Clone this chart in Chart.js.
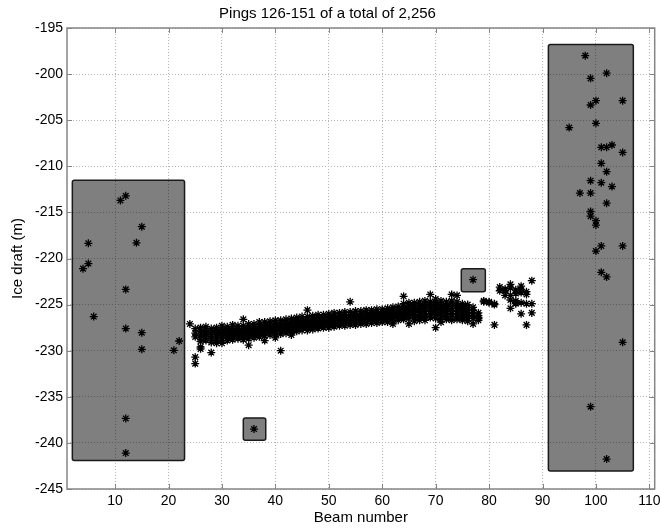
<!DOCTYPE html>
<html>
<head>
<meta charset="utf-8">
<script src="https://cdn.jsdelivr.net/npm/chart.js@4"></script>
<style>
  html, body { margin: 0; padding: 0; background: #fff; }
  canvas { display: block; }
</style>
</head>
<body>
<canvas id="c" width="660" height="529" style="width:660px;height:529px"></canvas>
<script>
// ---------- data ----------
const chartTitle = 'Pings 126-151 of a total of 2,256';
const xTickValues = [10, 20, 30, 40, 50, 60, 70, 80, 90, 100, 110];
const yTickValues = [-245, -240, -235, -230, -225, -220, -215, -210, -205, -200, -195];

// scattered points on the left (beams 4-22)
const leftBeams  = [11, 12, 15, 5, 14, 5, 4, 12, 6, 12, 15, 15, 21, 22, 12, 12];
const leftDrafts = [-213.7, -213.2, -216.55, -218.35, -218.3, -220.55, -221.1, -223.35, -226.3, -227.6, -228.05, -229.85, -229.96, -228.95, -237.35, -241.1];

// scattered points on the right (beams 95-105)
const rightBeams  = [98, 102, 99, 100, 105, 99, 100, 95, 101, 102, 103, 105, 101, 102, 99, 101, 103, 97, 99, 102, 99, 99, 100, 100, 101, 105, 100, 101, 102, 105, 99, 102];
const rightDrafts = [-198.0, -199.9, -200.46, -202.88, -202.88, -203.35, -205.34, -205.8, -207.94, -207.94, -207.69, -208.5, -209.68, -210.58, -211.56, -211.78, -212.2, -212.9, -212.9, -214.0, -214.9, -215.4, -215.9, -216.37, -218.64, -218.64, -219.19, -221.5, -222.0, -229.09, -236.07, -241.75];

// isolated boxed points
const isolatedBeams  = [36, 77];
const isolatedDrafts = [-238.5, -222.3];

// dense band, beams 24-88, drafts listed per beam
const bandBeams = [24,25,26,27,28,29,30,31,32,33,34,35,36,37,38,39,40,41,42,43,44,45,46,47,48,49,50,51,52,53,54,55,56,57,58,59,60,61,62,63,64,65,66,67,68,69,70,71,72,73,74,75,76,77,78,79,80,81,82,83,84,85,86,87,88];
const bandDrafts = [
  [-227.1],
  [-228.1, -227.6, -228.5, -230.7, -231.4],
  [-227.5, -227.9, -228.3, -228.6, -229.0, -229.6, -229.8],
  [-227.4, -227.8, -228.2, -228.5, -228.9, -228.1],
  [-227.6, -228.0, -228.3, -228.7, -229.1, -230.2],
  [-227.5, -227.9, -228.2, -228.5, -228.9, -229.2, -228.0],
  [-227.3, -227.7, -228.0, -228.3, -228.6, -228.9, -229.2, -228.1],
  [-227.4, -227.7, -228.0, -228.3, -228.6, -228.9, -227.9, -228.2],
  [-227.2, -227.6, -227.9, -228.2, -228.5, -228.8, -228.0, -228.4],
  [-227.3, -227.6, -227.9, -228.2, -228.5, -228.7, -227.8, -228.1],
  [-226.6, -227.3, -227.6, -227.9, -228.2, -228.5, -228.8, -228.0],
  [-227.1, -227.5, -227.8, -228.1, -228.4, -228.7, -229.4, -227.9],
  [-227.1, -227.4, -227.7, -228.0, -228.3, -228.6, -227.8, -228.2],
  [-226.9, -227.3, -227.6, -227.9, -228.2, -228.5, -227.7, -228.0],
  [-226.9, -227.2, -227.5, -227.8, -228.1, -228.4, -228.9, -227.6],
  [-226.8, -227.1, -227.4, -227.7, -228.0, -228.3, -227.5, -227.9],
  [-226.7, -227.0, -227.3, -227.6, -227.9, -228.2, -228.6, -227.4],
  [-226.7, -227.0, -227.3, -227.6, -227.9, -228.2, -230.0, -227.5],
  [-226.6, -226.9, -227.2, -227.5, -227.8, -228.1, -227.3, -227.7],
  [-226.5, -226.8, -227.1, -227.4, -227.7, -228.0, -228.3, -227.2],
  [-226.4, -226.7, -227.0, -227.3, -227.6, -227.9, -227.1, -227.5],
  [-226.3, -226.6, -226.9, -227.2, -227.5, -227.8, -227.0, -227.4],
  [-225.6, -226.3, -226.6, -226.9, -227.2, -227.5, -227.8, -227.0],
  [-226.2, -226.5, -226.8, -227.1, -227.4, -227.7, -226.9, -227.2],
  [-226.1, -226.4, -226.7, -227.0, -227.3, -227.6, -226.8, -227.1],
  [-226.1, -226.4, -226.7, -227.0, -227.3, -227.5, -226.9, -227.2],
  [-226.0, -226.3, -226.6, -226.9, -227.2, -227.5, -226.7, -227.0],
  [-225.9, -226.2, -226.5, -226.8, -227.1, -227.4, -226.6, -227.0],
  [-225.9, -226.2, -226.5, -226.8, -227.1, -227.3, -226.4, -226.9],
  [-225.8, -226.1, -226.4, -226.7, -227.0, -227.3, -226.5, -226.8],
  [-224.7, -225.8, -226.1, -226.4, -226.7, -227.0, -227.2, -226.5],
  [-225.7, -226.0, -226.3, -226.6, -226.9, -227.2, -226.4, -226.7],
  [-225.7, -226.0, -226.3, -226.6, -226.9, -227.1, -226.2, -226.5],
  [-225.6, -225.9, -226.2, -226.5, -226.8, -227.1, -226.3, -226.6],
  [-225.6, -225.9, -226.2, -226.5, -226.8, -227.0, -226.1, -226.4],
  [-225.5, -225.8, -226.1, -226.4, -226.7, -227.0, -226.2, -226.5],
  [-225.5, -225.8, -226.1, -226.4, -226.7, -226.9, -226.0, -226.3],
  [-225.4, -225.7, -226.0, -226.3, -226.6, -226.9, -226.1, -226.4],
  [-225.3, -225.6, -225.9, -226.2, -226.5, -226.8, -227.1, -226.0],
  [-225.2, -225.5, -225.8, -226.1, -226.4, -226.7, -225.9, -226.2],
  [-224.1, -224.9, -225.3, -225.7, -226.0, -226.3, -226.6, -225.5],
  [-224.8, -225.2, -225.6, -225.9, -226.2, -226.5, -227.1, -225.8],
  [-224.8, -225.1, -225.5, -225.8, -226.1, -226.4, -226.8, -225.6],
  [-224.7, -225.1, -225.4, -225.8, -226.1, -226.4, -226.7, -225.6],
  [-224.6, -225.0, -225.4, -225.7, -226.0, -226.3, -226.7, -225.2],
  [-223.9, -224.7, -225.0, -225.4, -225.7, -226.0, -226.4, -225.2],
  [-224.4, -224.8, -225.1, -225.4, -225.8, -226.1, -226.5, -227.5, -225.6],
  [-224.6, -225.0, -225.3, -225.6, -225.9, -226.2, -226.6, -226.9],
  [-224.7, -225.1, -225.4, -225.7, -226.0, -226.3, -226.6, -225.5],
  [-223.9, -224.6, -225.0, -225.4, -225.7, -226.0, -226.3, -226.7],
  [-224.0, -224.7, -225.1, -225.4, -225.7, -226.0, -226.3, -226.6],
  [-224.9, -225.2, -225.5, -225.8, -226.1, -226.4, -226.7, -225.3],
  [-225.0, -225.3, -225.6, -225.9, -226.2, -226.5, -226.8],
  [-225.3, -225.6, -225.9, -226.2, -226.5, -227.1],
  [-225.9, -226.2, -226.4, -226.7, -226.5],
  [-224.7, -224.6],
  [-224.8, -224.7],
  [-225.0, -227.2, -224.9],
  [-223.5, -223.1],
  [-223.5, -223.3, -224.0],
  [-222.8, -224.0, -225.4, -223.2, -224.5],
  [-223.8, -224.9, -224.8, -224.6, -223.4],
  [-223.0, -223.7, -226.0, -223.4, -224.8],
  [-223.6, -224.9, -227.2, -223.9],
  [-222.4, -224.9, -225.9]
];

// shaded boxes (beam range, draft range)
const boxBeamFrom   = [2, 34.0, 74.8, 91.1];
const boxBeamTo     = [23, 38.2, 79.3, 107];
const boxDraftTop   = [-211.5, -237.3, -221.1, -196.8];
const boxDraftBottom= [-241.9, -239.7, -223.6, -243.05];

// ---------- build dataset ----------
const points = [];
for (let i = 0; i < leftBeams.length; i++) points.push({x: leftBeams[i], y: leftDrafts[i]});
for (let i = 0; i < bandBeams.length; i++) {
  for (const d of bandDrafts[i]) points.push({x: bandBeams[i], y: d});
}
for (let i = 0; i < isolatedBeams.length; i++) points.push({x: isolatedBeams[i], y: isolatedDrafts[i]});
for (let i = 0; i < rightBeams.length; i++) points.push({x: rightBeams[i], y: rightDrafts[i]});

const FONT = "'Liberation Sans', Arial, Helvetica, sans-serif";

const boxPlugin = {
  id: 'boxes',
  beforeDatasetsDraw(chart) {
    const {ctx, scales: {x, y}} = chart;
    ctx.save();
    for (let i = 0; i < boxBeamFrom.length; i++) {
      const x0 = x.getPixelForValue(boxBeamFrom[i]);
      const x1 = x.getPixelForValue(boxBeamTo[i]);
      const y0 = y.getPixelForValue(boxDraftTop[i]);
      const y1 = y.getPixelForValue(boxDraftBottom[i]);
      ctx.beginPath();
      if (ctx.roundRect) ctx.roundRect(x0, y0, x1 - x0, y1 - y0, 2);
      else ctx.rect(x0, y0, x1 - x0, y1 - y0);
      ctx.fillStyle = 'rgba(0,0,0,0.5)';
      ctx.fill();
      ctx.lineWidth = 1.5;
      ctx.strokeStyle = '#1a1a1a';
      ctx.stroke();
    }
    ctx.restore();
  }
};

const framePlugin = {
  id: 'frame',
  afterDatasetsDraw(chart) {
    const {ctx, chartArea: a, scales: {x, y}} = chart;
    ctx.save();
    ctx.strokeStyle = '#858585';
    ctx.lineWidth = 1.5;
    ctx.strokeRect(a.left, a.top, a.right - a.left, a.bottom - a.top);
    ctx.lineWidth = 1;
    ctx.beginPath();
    for (const v of xTickValues) {
      const px = Math.round(x.getPixelForValue(v)) + 0.5;
      ctx.moveTo(px, a.bottom); ctx.lineTo(px, a.bottom - 5);
      ctx.moveTo(px, a.top); ctx.lineTo(px, a.top + 5);
    }
    for (const v of yTickValues) {
      const py = Math.round(y.getPixelForValue(v)) + 0.5;
      ctx.moveTo(a.left, py); ctx.lineTo(a.left + 5, py);
      ctx.moveTo(a.right, py); ctx.lineTo(a.right - 5, py);
    }
    ctx.stroke();
    ctx.restore();
  }
};

new Chart(document.getElementById('c'), {
  type: 'scatter',
  data: {
    datasets: [{
      data: points,
      pointStyle: 'star',
      radius: 4,
      hoverRadius: 4,
      borderWidth: 1.3,
      borderColor: '#000',
      backgroundColor: '#000'
    }]
  },
  options: {
    responsive: false,
    animation: false,
    events: [],
    layout: { padding: { left: 0, right: 5, top: 0, bottom: 0 } },
    plugins: {
      legend: { display: false },
      tooltip: { enabled: false },
      title: {
        display: true,
        text: chartTitle,
        color: '#000',
        font: { family: FONT, size: 15, weight: 'normal', lineHeight: 1.2 },
        padding: { top: 5, bottom: 5 }
      }
    },
    scales: {
      x: {
        type: 'linear',
        min: 1, max: 111,
        afterBuildTicks: s => { s.ticks = xTickValues.map(v => ({value: v})); },
        afterFit: s => { s.height = 40; s.paddingLeft = 0; s.paddingRight = 0; },
        ticks: { color: '#000', font: { family: FONT, size: 14 }, padding: 4, maxRotation: 0, autoSkip: false },
        grid: { color: '#b4b4b4', lineWidth: 1, drawTicks: false },
        border: { display: false, dash: [1, 2] },
        title: { display: true, text: 'Beam number', color: '#000', font: { family: FONT, size: 15 }, padding: { top: 0, bottom: 2 } }
      },
      y: {
        type: 'linear',
        min: -245, max: -195,
        afterBuildTicks: s => { s.ticks = yTickValues.map(v => ({value: v})); },
        afterFit: s => { s.width = 67; },
        ticks: { color: '#000', font: { family: FONT, size: 14 }, padding: 4, autoSkip: false },
        grid: { color: '#b4b4b4', lineWidth: 1, drawTicks: false },
        border: { display: false, dash: [1, 2] },
        title: { display: true, text: 'Ice draft (m)', color: '#000', font: { family: FONT, size: 15 }, padding: { top: 9, bottom: 0 } }
      }
    }
  },
  plugins: [boxPlugin, framePlugin]
});
</script>
</body>
</html>
